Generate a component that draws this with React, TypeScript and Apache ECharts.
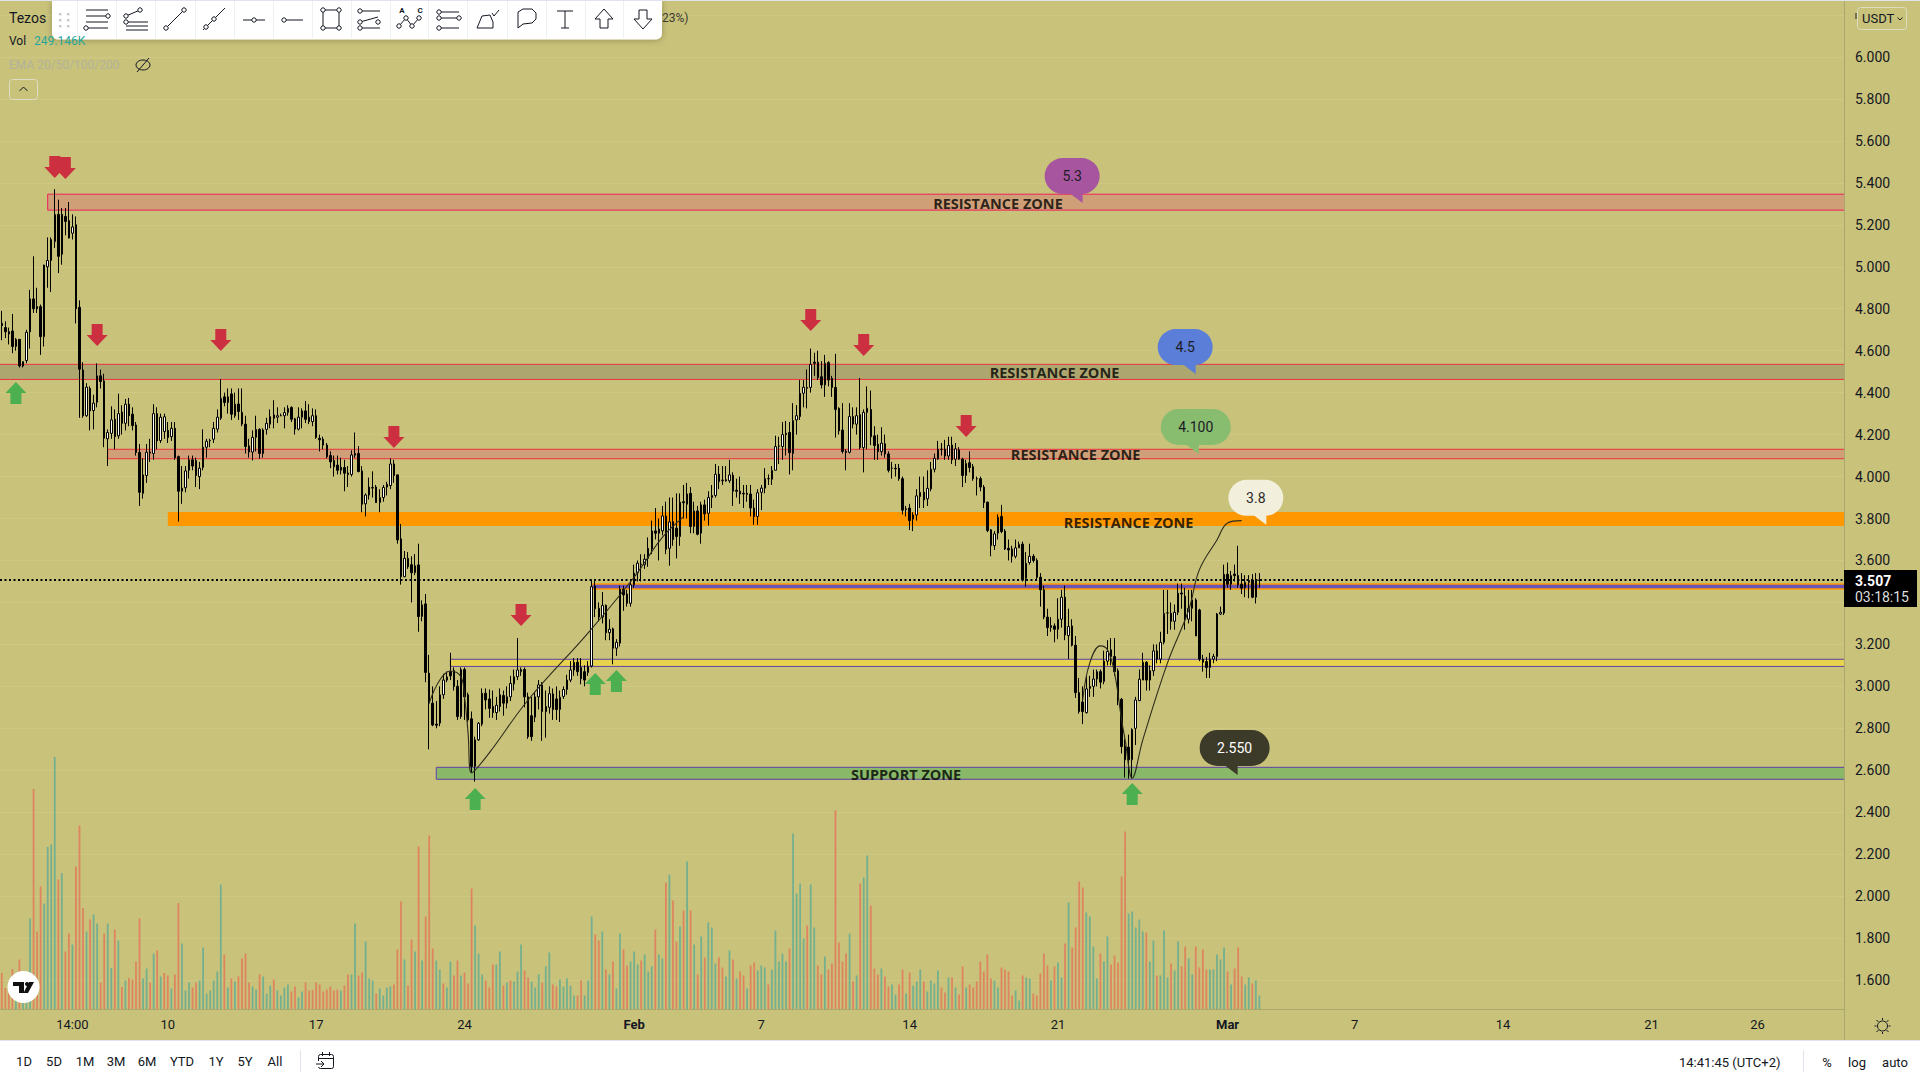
import React, { useEffect, useRef } from "react";
import * as echarts from "echarts";

// Candles, 4h: [open, high, low, close]
const candleRows: number[][] = [
[4.73,4.79,4.65,4.72],[4.71,4.74,4.66,4.69],[4.69,4.71,4.63,4.68],[4.694,4.775,4.588,4.62],[4.62,4.66,4.6,4.654],
[4.654,4.655,4.52,4.527],[4.527,4.55,4.52,4.548],[4.553,4.7,4.54,4.688],[4.69,4.89,4.61,4.847],[4.847,5.05,4.78,4.8],
[4.81,4.9,4.78,4.8],[4.81,4.82,4.58,4.667],[4.667,5.01,4.62,5.008],[5.0,5.14,4.9,5.03],[5.03,5.14,4.88,5.13],
[5.12,5.37,5.09,5.25],[5.25,5.32,4.97,5.05],[5.25,5.28,5.01,5.06],[5.24,5.28,5.15,5.216],[5.22,5.309,5.135,5.137],
[5.16,5.25,5.13,5.19],[5.2,5.24,4.73,4.8],[4.807,4.84,4.28,4.512],[4.508,4.545,4.28,4.29],[4.29,4.445,4.285,4.426],
[4.42,4.43,4.22,4.313],[4.315,4.39,4.225,4.35],[4.354,4.54,4.33,4.48],[4.48,4.51,4.42,4.453],[4.456,4.49,4.14,4.183],
[4.18,4.225,4.05,4.21],[4.206,4.335,4.18,4.27],[4.273,4.32,4.13,4.19],[4.194,4.395,4.18,4.3],[4.308,4.34,4.2,4.254],
[4.254,4.37,4.22,4.345],[4.345,4.375,4.24,4.29],[4.297,4.33,4.22,4.243],[4.246,4.26,4.1,4.115],[4.115,4.155,3.86,3.925],
[3.92,4.087,3.895,4.008],[4.005,4.155,3.97,4.116],[4.117,4.18,4.07,4.112],[4.11,4.345,4.08,4.3],[4.3,4.33,4.13,4.17],
[4.172,4.3,4.16,4.283],[4.215,4.3,4.18,4.285],[4.22,4.26,4.16,4.186],[4.19,4.26,4.17,4.23],[4.23,4.26,4.08,4.09],
[4.095,4.1,3.785,3.93],[3.93,4.05,3.87,3.945],[3.947,4.05,3.925,4.027],[4.03,4.1,3.99,4.08],[4.08,4.1,4.03,4.05],
[4.076,4.09,3.95,4.005],[4.0,4.07,3.94,4.04],[4.043,4.225,4.03,4.14],[4.14,4.18,4.09,4.168],[4.17,4.18,4.14,4.172],
[4.178,4.26,4.16,4.23],[4.226,4.32,4.21,4.283],[4.278,4.465,4.27,4.373],[4.38,4.4,4.335,4.353],[4.353,4.42,4.3,4.38],
[4.394,4.42,4.27,4.297],[4.29,4.4,4.28,4.345],[4.346,4.42,4.27,4.31],[4.306,4.42,4.24,4.25],[4.25,4.29,4.11,4.143],
[4.146,4.18,4.09,4.117],[4.117,4.22,4.077,4.187],[4.187,4.29,4.12,4.225],[4.225,4.23,4.085,4.11],[4.11,4.23,4.09,4.222],
[4.225,4.28,4.2,4.254],[4.25,4.32,4.23,4.286],[4.294,4.364,4.23,4.278],[4.283,4.33,4.255,4.29],[4.29,4.3,4.29,4.29],
[4.29,4.33,4.23,4.305],[4.305,4.34,4.29,4.325],[4.329,4.335,4.26,4.273],[4.275,4.28,4.2,4.226],[4.226,4.33,4.22,4.283],
[4.283,4.325,4.23,4.313],[4.313,4.36,4.255,4.273],[4.283,4.345,4.25,4.262],[4.262,4.325,4.24,4.29],[4.29,4.32,4.18,4.186],
[4.182,4.2,4.12,4.175],[4.178,4.19,4.13,4.15],[4.15,4.16,4.087,4.095],[4.1,4.12,4.04,4.07],[4.076,4.1,4.0,4.047],
[4.055,4.1,4.01,4.03],[4.03,4.09,4.01,4.045],[4.043,4.08,3.93,4.016],[4.017,4.05,3.95,4.01],[4.01,4.125,4.0,4.103],
[4.102,4.21,4.09,4.11],[4.11,4.145,4.02,4.024],[4.027,4.05,3.83,3.868],[3.87,3.92,3.81,3.912],[3.912,3.995,3.89,3.95],
[3.945,4.025,3.9,3.948],[3.95,3.96,3.875,3.876],[3.876,3.94,3.83,3.9],[3.9,3.96,3.88,3.948],[3.95,3.975,3.91,3.963],
[3.957,4.087,3.94,4.06],[4.06,4.08,3.97,4.005],[4.008,4.01,3.68,3.698],[3.703,3.774,3.485,3.523],[3.523,3.645,3.52,3.61],
[3.61,3.64,3.56,3.57],[3.58,3.62,3.4,3.542],[3.542,3.63,3.53,3.575],[3.579,3.68,3.26,3.333],[3.333,3.41,3.31,3.388],
[3.393,3.44,3.02,3.066],[3.063,3.15,2.7,2.92],[2.92,3.0,2.81,2.816],[2.82,2.93,2.8,2.815],[2.825,3.0,2.81,2.96],
[2.96,3.06,2.94,3.03],[3.03,3.07,3.02,3.045],[3.07,3.16,3.03,3.05],[3.075,3.09,2.98,2.999],[3.0,3.03,2.84,2.856],
[2.856,3.09,2.845,3.08],[3.08,3.09,2.84,2.95],[2.96,2.97,2.83,2.84],[2.845,2.88,2.59,2.618],[2.618,2.76,2.546,2.745],
[2.745,2.83,2.74,2.824],[2.82,2.99,2.81,2.967],[2.967,2.99,2.89,2.935],[2.94,2.985,2.85,2.895],[2.904,2.98,2.85,2.875],
[2.875,2.95,2.84,2.91],[2.904,2.99,2.88,2.96],[2.956,2.98,2.86,2.92],[2.92,3.0,2.895,2.95],[2.95,3.05,2.93,3.014],
[3.012,3.08,2.98,3.046],[3.046,3.23,3.03,3.078],[3.07,3.09,3.05,3.08],[3.08,3.09,2.9,2.95],[2.95,2.97,2.75,2.76],
[2.86,2.95,2.74,2.76],[2.853,2.97,2.83,2.95],[2.95,3.03,2.89,3.007],[3.007,3.02,2.74,2.88],[2.904,2.98,2.755,2.88],
[2.9,3.0,2.87,2.965],[2.964,2.99,2.84,2.89],[2.94,3.0,2.84,2.89],[2.89,2.98,2.83,2.948],[2.952,3.0,2.94,2.985],
[2.985,3.055,2.96,3.03],[3.03,3.12,3.02,3.078],[3.078,3.135,3.05,3.115],[3.115,3.135,3.05,3.07],[3.09,3.135,3.01,3.036],
[3.07,3.1,3.0,3.03],[3.066,3.12,3.05,3.095],[3.097,3.51,3.09,3.475],[3.478,3.505,3.33,3.37],[3.372,3.4,3.31,3.33],
[3.33,3.45,3.3,3.386],[3.386,3.39,3.22,3.256],[3.256,3.32,3.22,3.272],[3.274,3.28,3.105,3.182],[3.182,3.225,3.145,3.21],
[3.206,3.48,3.19,3.463],[3.463,3.48,3.36,3.436],[3.44,3.46,3.38,3.396],[3.396,3.51,3.38,3.484],[3.484,3.58,3.47,3.54],
[3.542,3.6,3.5,3.587],[3.58,3.63,3.5,3.583],[3.58,3.63,3.56,3.606],[3.61,3.71,3.57,3.658],[3.655,3.79,3.63,3.741],
[3.741,3.85,3.7,3.73],[3.73,3.8,3.6,3.75],[3.741,3.86,3.72,3.812],[3.812,3.88,3.63,3.653],[3.658,3.9,3.575,3.784],
[3.785,3.9,3.67,3.7],[3.754,3.92,3.61,3.714],[3.714,3.92,3.67,3.878],[3.88,3.96,3.8,3.875],[3.868,3.97,3.8,3.917],
[3.92,3.95,3.73,3.762],[3.762,3.88,3.73,3.836],[3.836,3.86,3.72,3.725],[3.73,3.88,3.68,3.865],[3.865,3.89,3.79,3.822],
[3.825,3.93,3.766,3.9],[3.9,3.96,3.85,3.91],[3.91,4.06,3.9,4.011],[4.011,4.05,3.94,3.976],[3.98,4.05,3.96,3.983],
[3.985,4.05,3.975,3.98],[3.98,4.08,3.97,4.008],[4.006,4.02,3.86,3.93],[3.935,3.99,3.9,3.93],[3.93,4.0,3.87,3.917],
[3.92,3.96,3.85,3.917],[3.92,3.96,3.88,3.915],[3.917,3.96,3.81,3.85],[3.85,3.89,3.77,3.81],[3.81,3.94,3.77,3.923],
[3.925,3.96,3.84,3.945],[3.945,4.04,3.92,3.99],[3.99,4.01,3.96,3.99],[3.987,4.05,3.96,4.03],[4.03,4.195,4.03,4.143],
[4.145,4.19,4.06,4.146],[4.143,4.26,4.08,4.2],[4.206,4.265,4.1,4.2],[4.21,4.26,4.01,4.114],[4.11,4.35,4.03,4.267],
[4.27,4.34,4.2,4.29],[4.286,4.46,4.27,4.397],[4.397,4.46,4.33,4.426],[4.42,4.51,4.325,4.425],[4.425,4.61,4.4,4.535],
[4.545,4.59,4.48,4.54],[4.545,4.6,4.46,4.472],[4.476,4.55,4.42,4.437],[4.437,4.58,4.38,4.54],[4.543,4.55,4.43,4.46],
[4.468,4.48,4.38,4.425],[4.425,4.585,4.186,4.32],[4.325,4.33,4.2,4.218],[4.222,4.35,4.11,4.12],[4.12,4.13,4.03,4.115],
[4.116,4.35,4.11,4.286],[4.286,4.33,4.23,4.25],[4.25,4.33,4.2,4.29],[4.295,4.47,4.13,4.138],[4.138,4.32,4.02,4.306],
[4.306,4.43,4.13,4.326],[4.32,4.41,4.15,4.19],[4.194,4.24,4.08,4.148],[4.154,4.2,4.08,4.119],[4.119,4.235,4.1,4.159],
[4.156,4.2,4.09,4.108],[4.108,4.12,4.02,4.03],[4.04,4.07,3.99,4.04],[4.04,4.06,4.0,4.037],[4.04,4.06,3.98,3.99],
[3.99,4.0,3.82,3.84],[3.846,3.86,3.81,3.843],[3.85,3.87,3.745,3.79],[3.797,3.83,3.74,3.817],[3.817,3.94,3.79,3.908],
[3.905,4.0,3.85,3.925],[3.925,4.0,3.85,3.889],[3.894,4.03,3.86,3.944],[3.941,4.07,3.93,4.035],[4.035,4.11,4.02,4.087],
[4.084,4.17,4.08,4.13],[4.13,4.16,4.1,4.13],[4.13,4.175,4.08,4.098],[4.098,4.19,4.08,4.148],[4.15,4.19,4.06,4.08],
[4.083,4.16,4.05,4.132],[4.127,4.14,4.08,4.083],[4.083,4.09,3.95,4.005],[4.005,4.08,3.97,4.063],[4.066,4.12,4.02,4.043],
[4.047,4.06,3.98,3.99],[3.99,4.0,3.91,3.99],[3.99,4.0,3.93,3.95],[3.95,3.96,3.85,3.876],[3.878,3.88,3.735,3.743],
[3.746,3.75,3.62,3.671],[3.671,3.74,3.65,3.727],[3.73,3.82,3.7,3.806],[3.81,3.865,3.73,3.738],[3.74,3.75,3.65,3.655],
[3.658,3.7,3.6,3.65],[3.655,3.67,3.59,3.62],[3.62,3.7,3.61,3.66],[3.66,3.69,3.66,3.676],[3.678,3.69,3.5,3.508],
[3.515,3.64,3.475,3.587],[3.59,3.68,3.58,3.62],[3.62,3.63,3.59,3.6],[3.6,3.61,3.51,3.52],[3.52,3.54,3.38,3.46],
[3.46,3.48,3.32,3.33],[3.33,3.37,3.24,3.28],[3.28,3.33,3.26,3.29],[3.288,3.3,3.21,3.272],[3.272,3.42,3.225,3.32],
[3.32,3.46,3.28,3.425],[3.425,3.48,3.22,3.245],[3.242,3.37,3.13,3.285],[3.288,3.32,3.19,3.196],[3.196,3.24,2.945,2.97],
[2.97,3.04,2.87,2.88],[2.925,3.0,2.82,2.88],[2.875,3.05,2.87,2.988],[2.99,3.05,2.95,3.0],[3.0,3.08,2.95,3.035],
[3.035,3.08,3.0,3.07],[3.07,3.08,2.99,3.02],[3.023,3.17,3.01,3.12],[3.12,3.22,3.1,3.166],[3.174,3.23,3.1,3.142],
[3.142,3.23,3.05,3.07],[3.074,3.085,2.91,2.935],[2.938,2.945,2.68,2.713],[2.716,2.75,2.565,2.65],[2.71,2.77,2.56,2.65],
[2.65,2.8,2.56,2.795],[2.8,2.95,2.72,2.935],[2.932,3.08,2.93,3.034],[3.03,3.16,3.03,3.115],[3.115,3.12,2.98,3.03],
[3.03,3.1,2.98,3.075],[3.074,3.2,3.05,3.169],[3.169,3.2,3.11,3.13],[3.13,3.26,3.11,3.21],[3.21,3.46,3.2,3.348],
[3.35,3.46,3.25,3.35],[3.348,3.4,3.27,3.31],[3.31,3.39,3.27,3.353],[3.353,3.49,3.34,3.444],[3.445,3.49,3.37,3.44],
[3.43,3.47,3.27,3.32],[3.32,3.46,3.3,3.372],[3.372,3.46,3.31,3.412],[3.412,3.42,3.24,3.24],[3.364,3.37,3.12,3.13],
[3.13,3.15,3.07,3.115],[3.118,3.14,3.04,3.09],[3.09,3.16,3.04,3.13],[3.13,3.155,3.11,3.142],[3.142,3.35,3.12,3.345],
[3.345,3.38,3.34,3.353],[3.35,3.58,3.34,3.534],[3.534,3.59,3.47,3.487],[3.487,3.55,3.46,3.528],[3.535,3.58,3.5,3.528],
[3.528,3.67,3.47,3.484],[3.487,3.54,3.44,3.468],[3.47,3.53,3.425,3.496],[3.496,3.53,3.42,3.505],[3.507,3.535,3.42,3.425],
[3.425,3.54,3.395,3.504],[3.505,3.54,3.47,3.507],
];

// Volume in units of 10K; a positive value is a rising bar, a negative one a falling bar
const volumes: number[] = [
-72,-42,-32,-80,40,-99,30,40,181,-440,-155,-245,211,324,329,504,-259,272,-115,-151,
129,-285,-367,-202,155,-179,189,171,-53,-151,171,82,-159,137,-44,57,-62,-59,-95,-181,
61,81,-53,111,-117,65,-72,-67,41,-69,-212,131,37,53,-43,-53,57,123,31,37,
57,75,249,-109,43,-61,55,-65,-101,-111,-53,45,39,-69,65,31,47,-59,37,27,
43,49,-35,-45,23,35,-53,-37,-38,-53,-49,-35,-39,-45,-37,-39,37,-47,-69,69,
171,-67,-73,135,61,57,-31,41,27,43,45,-49,-119,-215,99,-47,-139,115,-325,97,
-185,-347,-121,97,79,-51,43,95,-67,-97,67,-73,-51,-241,167,111,69,-57,-43,-89,
89,115,-47,53,-57,55,75,129,-77,-63,55,43,69,-53,85,113,-49,-45,59,45,
61,47,27,-27,-57,27,57,185,-149,-137,155,-79,69,-95,41,151,-119,-87,95,115,
89,-97,109,75,85,-159,109,101,-253,269,-217,-135,165,-197,295,-197,129,-69,145,-103,
173,163,91,-103,-83,65,117,-99,61,-75,-67,41,-87,-93,77,87,83,-49,79,157,
95,111,95,-121,351,231,251,141,-167,249,163,-87,-69,105,-79,-91,-397,-133,-95,-111,
151,-55,67,-251,263,307,-207,-81,-69,81,-65,-45,49,29,-49,-79,31,-73,47,55,
79,-55,35,57,51,77,-43,-33,63,-63,43,-29,-85,43,-49,-43,-55,-95,-75,-109,
-61,57,43,-83,-79,-75,-27,37,17,-67,63,61,-31,-27,-71,-111,-87,57,-85,93,
63,-131,213,-123,-163,-255,-243,193,185,125,61,-111,95,145,-89,-107,-93,-265,-355,191,
195,163,179,155,-153,95,137,-67,67,157,63,-91,77,135,-85,-125,101,69,-125,-83,
-119,-79,79,79,109,99,123,-75,49,-81,-123,-65,49,63,-51,57,27,
];

const slotCount = 522;
const tickSlots = [20, 47, 89, 131, 179, 215, 257, 299, 347, 383, 425, 467, 497];
const tickLabels = ["14:00", "10", "17", "24", "Feb", "7", "14", "21", "Mar", "7", "14", "21", "26"];
const boldTicks = ["Feb", "Mar"];
const lastPrice = 3.507;
const priceMin = 1.4;
const priceMax = 6.2717;
const priceStep = 0.2;
// 3.400 sits under the last-price box and 6.200 under the currency button in the reference
const coveredPriceLabels = [3.4, 6.2];

const zoneStart = [13, -1, 30, 47, 167, 127, 123];
const zoneTop = [5.346, 4.535, 4.13, 3.831, 3.488, 3.129, 2.614];
const zoneBottom = [5.27, 4.463, 4.085, 3.764, 3.464, 3.095, 2.557];
const zoneFill = ["#cfa077", "#aea66f", "#cfa077", "#ff9800", "#6b56b8", "#e8d34f", "#89b868"];
const zoneStroke = ["#ef1f5c", "#ef3040", "#ef3040", "", "#ff9800", "#5f3fa8", "#5f3fa8"];

const sellArrows = [[15, 5.476], [18, 5.471], [27, 4.675], [62, 4.651], [111, 4.189], [147, 3.34], [229, 4.746], [244, 4.627], [273, 4.241]];
const buyArrows = [[4, 4.398], [134, 2.463], [168, 3.011], [174, 3.026], [320, 2.487]];

const curveA = [[121, 2.921], [124, 3.03], [127, 3.073], [130, 3.045], [131, 2.95], [132, 2.778], [133, 2.587], [138, 2.683], [149, 2.935], [166, 3.255], [179, 3.52], [187, 3.71], [193, 3.808]];
const curveB = [[306, 2.935], [308, 3.112], [311, 3.193], [313, 3.174], [315, 3.064], [317, 2.84], [318, 2.745], [320, 2.563], [323, 2.745], [330, 3.112], [336, 3.364], [339, 3.555], [344, 3.698], [347, 3.779], [351, 3.79]];

const zoneLabels = [
  { name: "RESISTANCE ZONE", value: [282, 5.302] },
  { name: "RESISTANCE ZONE", value: [298, 4.494] },
  { name: "RESISTANCE ZONE", value: [304, 4.106] },
  { name: "RESISTANCE ZONE", value: [319, 3.78] },
  { name: "SUPPORT ZONE", value: [256, 2.58] },
];
const callouts = [
  { name: "5.3", value: [303, 5.411], w: 55, fill: "#a855a0", ink: "#1b1b24" },
  { name: "4.5", value: [335, 4.596], w: 55, fill: "#5b7fd9", ink: "#1b1b24" },
  { name: "4.100", value: [338, 4.215], w: 70, fill: "#88bd70", ink: "#1b1b24" },
  { name: "3.8", value: [355, 3.877], w: 55, fill: "#f2efdc", ink: "#2a2a2a" },
  { name: "2.550", value: [349, 2.685], w: 70, fill: "#3c3a28", ink: "#ffffff" },
];

const rangeButtons = ["1D", "5D", "1M", "3M", "6M", "YTD", "1Y", "5Y", "All"];
const rangeX = [24, 54, 85, 116, 147, 182, 216, 245, 275];

const BG = "#c9c27a";
const INK = "#131722";
const FONT = "Roboto, sans-serif";

const downPath = "path://M5,0 L16,0 L16,11 L21,11 L10.5,22 L0,11 L5,11 Z";
const upPath = "path://M10.5,0 L21,11 L16,11 L16,22 L5,22 L5,11 L0,11 Z";
const bubblePath = (w: number) =>
  `path://M18,0 L${w - 18},0 A18,18 0 0 1 ${w - 18},36 L38,36 L38,45 L26,36 L18,36 A18,18 0 0 1 18,0 Z`;

const categories = Array.from({ length: slotCount }, (_, i) => {
  const at = tickSlots.indexOf(i);
  return at >= 0 ? tickLabels[at] : "";
});

// Small drawing helpers for the page chrome (toolbars and icons)
const ln = (x1: number, y1: number, x2: number, y2: number, stroke = INK, lineWidth = 1) => ({
  type: "line", z: 60, shape: { x1, y1, x2, y2 }, style: { stroke, lineWidth },
});
const dot = (cx: number, cy: number) => ({
  type: "circle", z: 61, shape: { cx, cy, r: 2.2 }, style: { stroke: INK, fill: "#fff", lineWidth: 1 },
});
const txt = (text: string, x: number, y: number, o: any = {}) => ({
  type: "text", z: o.z ?? 60, x, y,
  style: {
    text, fill: o.fill ?? INK, font: `${o.weight ?? "normal"} ${o.size ?? 13}px ${FONT}`,
    textAlign: o.align ?? "left", textVerticalAlign: "middle",
  },
});
const poly = (points: number[][], dx: number, dy: number) => ({
  type: "polygon", z: 60, shape: { points: points.map(([a, b]) => [a + dx, b + dy]) },
  style: { stroke: INK, fill: "#fff", lineWidth: 1 },
});
const pline = (points: number[][], dx: number, dy: number) => ({
  type: "polyline", z: 60, shape: { points: points.map(([a, b]) => [a + dx, b + dy]) },
  style: { stroke: INK, fill: "none", lineWidth: 1 },
});

const toolbarIcons = (): any[] => {
  const y = 19;
  const o: any[] = [];
  const at = (c: number) => ({
    l: (a: number, b: number, d: number, e: number) => o.push(ln(c + a, y + b, c + d, y + e)),
    d: (a: number, b: number) => o.push(dot(c + a, y + b)),
  });
  let k = at(97);
  k.l(-11, -9, 11, -9); k.l(-11, -3, 9, -3); k.d(11, -3); k.l(-11, 3, 11, 3); k.l(-9, 9, 11, 9); k.d(-11, 9);
  k = at(136);
  k.l(-10, -3, 4, -9); k.d(-10, -3); k.d(4, -9); k.l(-8, 3, 12, 3); k.l(-10, 7, 12, 7); k.l(-10, 11, 12, 11); k.d(-10, 3);
  k = at(175);
  k.l(-9, 9, 9, -9); k.d(-9, 9); k.d(9, -9);
  k = at(214);
  k.l(-11, 11, 11, -11); k.d(-8, 8); k.d(0, 0);
  k = at(254);
  k.l(-11, 1, 11, 1); k.d(0, 1);
  k = at(292);
  k.l(-8, 1, 11, 1); k.d(-8, 1);
  k = at(331);
  k.l(-8, -9, 8, -9); k.l(-8, 9, 8, 9); k.l(-8, -9, -8, 9); k.l(8, -9, 8, 9); k.d(-8, -9); k.d(8, -9); k.d(-8, 9); k.d(8, 9);
  k = at(369);
  k.l(-9, -8, 11, -8); k.l(-9, 9, 11, 9); k.l(-9, 3, 9, -2); k.d(-9, -8); k.d(-9, 3); k.d(9, 3); k.d(-9, 9);
  k = at(408);
  o.push(txt("A", 402, 10, { size: 8, weight: "bold", align: "center" }));
  o.push(txt("C", 420, 10, { size: 8, weight: "bold", align: "center" }));
  o.push(pline([[-9, 7], [-2, -1], [4, 7], [11, -1]], 408, 19));
  k.d(-9, 7); k.d(-2, -1); k.d(4, 7); k.d(11, -1);
  k = at(448);
  k.l(-9, -7, 11, -7); k.l(-9, -1, 11, -1); k.l(-9, 9, 11, 9); k.d(-9, -7); k.d(-9, -1); k.d(11, -1); k.d(-9, 9);
  o.push(pline([[-10, 9], [-5, -3], [3, -4], [6, 3], [6, 9], [-10, 9]], 487, 19));
  o.push(pline([[5, -6], [7, -3], [12, -9]], 487, 19));
  o.push(pline([[-9, 9], [-9, -7], [-4, -10], [5, -10], [9, -6], [9, 0], [5, 4], [-4, 5], [-9, 9]], 527, 19));
  o.push(ln(565, 11, 565, 28), ln(557, 11, 573, 11), ln(561, 28, 569, 28));
  o.push(poly([[0, -10], [9, 0], [4, 0], [4, 9], [-4, 9], [-4, 0], [-9, 0]], 604, 19));
  o.push(poly([[0, 10], [9, 0], [4, 0], [4, -9], [-4, -9], [-4, 0], [-9, 0]], 643, 19));
  return o;
};

const pageChrome = (): any[] => {
  const out: any[] = [];
  // legend block
  out.push(txt("Tezos", 9, 18, { size: 14 }));
  out.push(txt("23%)", 662, 18, { size: 12, fill: "#3c3c34" }));
  out.push(txt("Vol", 9, 41, { size: 12 }));
  out.push(txt("249.146K", 34, 41, { size: 12, fill: "#26a69a" }));
  out.push(txt("EMA 20/50/100/200", 9, 65, { size: 12, fill: "#b3b29a" }));
  out.push({ type: "ellipse", z: 60, shape: { cx: 143, cy: 65, rx: 7, ry: 5 }, style: { stroke: INK, fill: "none" } });
  out.push(ln(137, 72, 149, 58));
  out.push({ type: "rect", z: 60, shape: { x: 9.5, y: 79.5, width: 28, height: 20, r: 3 }, style: { stroke: "#dddcc4", fill: "none" } });
  out.push(pline([[-4, 2], [0, -2], [4, 2]], 23.5, 89));
  // drawing toolbar
  out.push({
    type: "rect", z: 59, shape: { x: 52, y: 0, width: 610, height: 39.5, r: [0, 0, 6, 6] },
    style: { fill: "#ffffff", shadowBlur: 6, shadowColor: "rgba(0,0,0,0.25)", shadowOffsetY: 1 },
  });
  [77, 116, 155, 195, 234, 273, 312, 351, 390, 428, 467, 507, 546, 585, 623].forEach((x) => out.push(ln(x + 0.5, 1, x + 0.5, 38, "#eef0f3")));
  [60, 68].forEach((x) => [14, 20, 26].forEach((y) =>
    out.push({ type: "rect", z: 60, shape: { x: x - 1, y: y - 1, width: 2.4, height: 2.4 }, style: { fill: "#c4c8d0" } })));
  out.push(...toolbarIcons());
  // price scale extras
  out.push(ln(1844.5, 0, 1844.5, 1041, "#aaa86c"));
  out.push(ln(1856, 13, 1856, 19, "#3a3a30", 1.2));
  out.push({ type: "rect", z: 60, shape: { x: 1857.5, y: 7.5, width: 49, height: 22, r: 3 }, style: { fill: BG, stroke: "#dcdcc0" } });
  out.push(txt("USDT", 1862, 18.5, { size: 13 }));
  out.push(pline([[-2.5, -1], [0, 1.5], [2.5, -1]], 1900, 18.5));
  out.push({ type: "rect", z: 60, shape: { x: 1844, y: 570, width: 73, height: 37 }, style: { fill: "#000000" } });
  out.push(txt("3.507", 1855, 581, { size: 14, weight: "bold", fill: "#ffffff" }));
  out.push(txt("03:18:15", 1855, 597, { size: 14, fill: "#dedede" }));
  // settings sun
  out.push({ type: "circle", z: 60, shape: { cx: 1882.5, cy: 1026, r: 5 }, style: { stroke: INK, fill: "none" } });
  [[0, -8, 0, -6], [0, 6, 0, 8], [-8, 0, -6, 0], [6, 0, 8, 0], [-6, -6, -4, -4], [4, 4, 6, 6], [-6, 6, -4, 4], [4, -4, 6, -6]].forEach(
    ([a, b, c, d]) => out.push(ln(1882.5 + a, 1026 + b, 1882.5 + c, 1026 + d)));
  // logo
  out.push({ type: "ellipse", z: 60, shape: { cx: 23.5, cy: 987, rx: 16, ry: 16 }, style: { fill: "#ffffff" } });
  out.push({ type: "polygon", z: 61, shape: { points: [[13, 982], [24, 982], [24, 993], [19, 993], [19, 986], [13, 986]] }, style: { fill: "#111" } });
  out.push({ type: "circle", z: 61, shape: { cx: 27, cy: 984, r: 2 }, style: { fill: "#111" } });
  out.push({ type: "polygon", z: 61, shape: { points: [[29, 982], [34, 982], [28, 993], [23.5, 993]] }, style: { fill: "#111" } });
  // bottom bar
  out.push({ type: "rect", z: 59, shape: { x: 0, y: 1041, width: 1920, height: 39 }, style: { fill: "#ffffff" } });
  out.push(ln(0, 1040.5, 1920, 1040.5, "#e0e3eb"));
  out.push(ln(0, 0.5, 1920, 0.5, "#e0e3eb"));
  rangeButtons.forEach((t, i) => out.push(txt(t, rangeX[i], 1061, { size: 13, align: "center" })));
  out.push(ln(300.5, 1050, 300.5, 1072, "#e0e3eb"));
  out.push({ type: "rect", z: 60, shape: { x: 318.5, y: 1054.5, width: 15, height: 14, r: 2 }, style: { stroke: INK, fill: "none" } });
  out.push(ln(318, 1058.5, 334, 1058.5), ln(322.5, 1052, 322.5, 1056), ln(329.5, 1052, 329.5, 1056));
  out.push({ type: "rect", z: 60, shape: { x: 316, y: 1061, width: 9, height: 6 }, style: { fill: "#ffffff" } });
  out.push(pline([[-6, 0], [2, 0], [-1, -3]], 322, 1064), pline([[2, 0], [-1, 3]], 322, 1064));
  out.push(txt("14:41:45 (UTC+2)", 1679, 1062, { size: 13 }));
  out.push(ln(1803.5, 1050, 1803.5, 1072, "#e0e3eb"));
  out.push(txt("%", 1827, 1062, { size: 13, align: "center" }));
  out.push(txt("log", 1857, 1062, { size: 13, align: "center" }));
  out.push(txt("auto", 1895, 1062, { size: 13, align: "center" }));
  return out;
};

const renderZone = (params: any, api: any) => {
  const c = params.coordSys;
  const i = params.dataIndex;
  const left = Math.max(api.coord([api.value(0), 0])[0], c.x);
  const right = c.x + c.width;
  const top = api.coord([0, api.value(1)])[1];
  const bottom = api.coord([0, api.value(2)])[1];
  const stroke = zoneStroke[i];
  const children: any[] = [
    { type: "rect", shape: { x: left, y: top, width: right - left, height: bottom - top }, style: { fill: zoneFill[i] } },
  ];
  if (stroke) {
    const w = i === 4 ? 1.6 : 1;
    children.push({ type: "line", shape: { x1: left, y1: top, x2: right, y2: top }, style: { stroke, lineWidth: w } });
    children.push({ type: "line", shape: { x1: left, y1: bottom, x2: right, y2: bottom }, style: { stroke, lineWidth: w } });
    if (api.value(0) >= 0) {
      children.push({ type: "line", shape: { x1: left, y1: top, x2: left, y2: bottom }, style: { stroke, lineWidth: w } });
    }
  }
  return { type: "group", children };
};

export default function App() {
  const ref = useRef<HTMLDivElement>(null);
  useEffect(() => {
    document.body.style.margin = "0";
    document.body.style.overflow = "hidden";
    const chart = echarts.init(ref.current!, undefined, { renderer: "svg" });
    chart.setOption({
      animation: false,
      backgroundColor: BG,
      textStyle: { fontFamily: FONT },
      grid: [
        { left: 0, width: 1844, top: 0, height: 1022, containLabel: false },
        { left: 0, width: 1844, top: 700, height: 309, containLabel: false },
      ],
      xAxis: [
        { type: "category", gridIndex: 0, data: categories, show: false },
        {
          type: "category", gridIndex: 1, data: categories,
          axisLine: { show: true, lineStyle: { color: "#aaa86c" } },
          axisTick: { show: false },
          splitLine: { show: false },
          axisLabel: {
            show: true, margin: 9, color: INK, fontSize: 13, fontFamily: FONT,
            hideOverlap: false,
            interval: (_: number, v: string) => v !== "",
            formatter: (v: string) => (boldTicks.includes(v) ? `{b|${v}}` : v),
            rich: { b: { fontWeight: "bold", fontSize: 13, color: INK, fontFamily: FONT } },
          },
        },
      ],
      yAxis: [
        {
          type: "value", gridIndex: 0, position: "right", min: priceMin, max: priceMax, interval: priceStep,
          axisLine: { show: false }, axisTick: { show: false },
          splitLine: { show: true, showMinLine: false, showMaxLine: false, lineStyle: { color: "#cec884", width: 1 } },
          axisLabel: {
            margin: 11, color: INK, fontSize: 14, fontFamily: FONT,
            showMinLabel: false, showMaxLabel: false,
            formatter: (v: number) => (coveredPriceLabels.some((c) => Math.abs(v - c) < 1e-6) ? "" : v.toFixed(3)),
          },
        },
        { type: "value", gridIndex: 1, min: 0, max: 618, show: false, splitLine: { show: false } },
      ],
      series: [
        {
          type: "custom", xAxisIndex: 0, yAxisIndex: 0, z: 1, silent: true, clip: true,
          encode: { x: 0, y: [1, 2] },
          data: zoneStart.map((s, i) => [s, zoneTop[i], zoneBottom[i]]),
          renderItem: renderZone,
        },
        {
          type: "bar", xAxisIndex: 1, yAxisIndex: 1, barWidth: 1.8, silent: true, z: 2,
          data: volumes.map((v) => ({ value: Math.abs(v), itemStyle: { color: v >= 0 ? "#74b08f" : "#de8560" } })),
        },
        {
          type: "candlestick", xAxisIndex: 0, yAxisIndex: 0, barWidth: 2, z: 3, silent: true,
          itemStyle: { color: "#ffffff", color0: "#000000", borderColor: "#000000", borderColor0: "#000000", borderWidth: 1 },
          data: candleRows.map(([o, h, l, c]) => [o, c, l, h]),
          markLine: {
            silent: true, symbol: "none", label: { show: false }, z: 3,
            lineStyle: { color: "#000000", type: [2, 2.5], width: 2 },
            data: [{ yAxis: lastPrice }],
          },
        },
        ...[curveA, curveB].map((curve) => ({
          type: "line", xAxisIndex: 0, yAxisIndex: 0, z: 4, silent: true, smooth: 0.4, showSymbol: false, symbol: "none",
          lineStyle: { color: "#2d2c1c", width: 1.1 }, data: curve,
        })),
        {
          type: "scatter", xAxisIndex: 0, yAxisIndex: 0, z: 5, silent: true,
          symbol: downPath, symbolSize: [21, 22], itemStyle: { color: "#cc2f40", opacity: 1 }, data: sellArrows,
        },
        {
          type: "scatter", xAxisIndex: 0, yAxisIndex: 0, z: 5, silent: true,
          symbol: upPath, symbolSize: [21, 22], itemStyle: { color: "#4caf50", opacity: 1 }, data: buyArrows,
        },
        {
          type: "scatter", xAxisIndex: 0, yAxisIndex: 0, z: 6, silent: true, symbolSize: 1,
          itemStyle: { color: "rgba(0,0,0,0)" },
          label: { show: true, position: "inside", formatter: "{b}", color: "#000000", fontSize: 14.5, fontWeight: 700, fontFamily: "'Open Sans', sans-serif" },
          data: zoneLabels,
        },
        {
          type: "scatter", xAxisIndex: 0, yAxisIndex: 0, z: 7, silent: true,
          data: callouts.map((c) => ({
            name: c.name, value: c.value, symbol: bubblePath(c.w), symbolSize: [c.w, 45],
            itemStyle: { color: c.fill, opacity: 1 },
            label: { show: true, position: "inside", offset: [0, -4.5], formatter: "{b}", color: c.ink, fontSize: 14, fontFamily: FONT },
          })),
        },
      ],
      graphic: { elements: pageChrome() },
    });
    return () => chart.dispose();
  }, []);
  return <div ref={ref} style={{ position: "fixed", left: 0, top: 0, width: 1920, height: 1080 }} />;
}
